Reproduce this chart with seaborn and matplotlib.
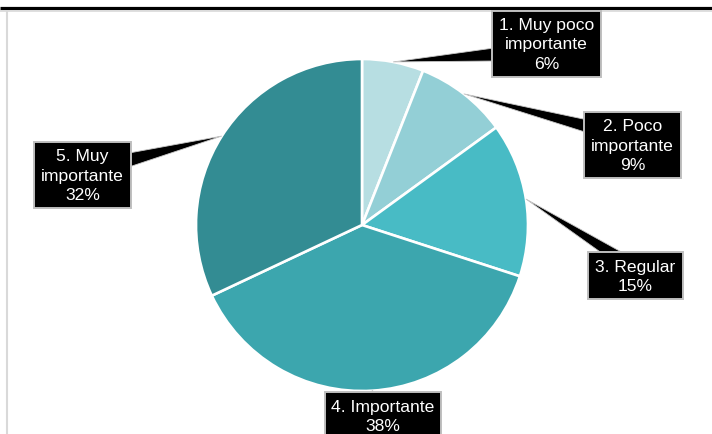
import numpy as np
import matplotlib
matplotlib.use("Agg")
import matplotlib.pyplot as plt
from matplotlib.patches import Rectangle, Polygon
import seaborn as sns

# ---- data ----
categories = ["1. Muy poco\nimportante", "2. Poco\nimportante", "3. Regular",
              "4. Importante", "5. Muy\nimportante"]
values = [6, 9, 15, 38, 32]
colors = ["#B7DEE2", "#93CFD6", "#48BBC5", "#3CA6AE", "#338C93"]

sns.set_theme(style="white")
plt.rcParams['font.family'] = ['Liberation Sans', 'DejaVu Sans']

W, H = 712, 435
fig = plt.figure(figsize=(W / 100, H / 100), dpi=100)
ax = fig.add_axes([0, 0, 1, 1])


def Y(y):
    return H - y


cx, cy, R = 362, 226, 166
wedges, _ = ax.pie(values, colors=colors, startangle=90, counterclock=False,
                   center=(cx, Y(cy)), radius=R,
                   wedgeprops=dict(edgecolor="white", linewidth=1.9))
ax.set_xlim(0, W)
ax.set_ylim(0, H)
ax.set_aspect("equal")
ax.axis("off")

# frame lines
ax.plot([0, W], [Y(9), Y(9)], color="black", lw=2.3, solid_capstyle="butt")
ax.plot([0, W], [Y(11.5), Y(11.5)], color="#D9D9D9", lw=1.2, solid_capstyle="butt")
ax.plot([6.8, 6.8], [Y(12), 0], color="#D9D9D9", lw=1.5, solid_capstyle="butt")

# label boxes (pixel layout) and leader bases
boxes = [(492, 12, 601, 78), (584, 113, 681, 179), (588, 253, 683, 300),
         (325, 393, 441, 445), (34, 143, 131, 209)]
bases = [((494, 49), (494, 62)), ((588, 121), (588, 134)), ((603, 255), (625, 255)),
         ((368, 395), (376, 395)), ((129, 154), (129, 168))]
text_y = [45, 146, 277, 417, 176]

for w, box, base, ty, cat, v in zip(wedges, boxes, bases, text_y, categories, values):
    mid = np.deg2rad((w.theta1 + w.theta2) / 2)
    tip = (cx + R * np.cos(mid), Y(cy) + R * np.sin(mid))
    poly = Polygon([tip, (base[0][0], Y(base[0][1])), (base[1][0], Y(base[1][1]))],
                   closed=True, facecolor="black", edgecolor="#C8C8C8", lw=0.6, zorder=3)
    ax.add_patch(poly)
    x0, y0, x1, y1 = box
    rect = Rectangle((x0, Y(y1)), x1 - x0, y1 - y0, facecolor="black",
                     edgecolor="#BFBFBF", lw=1.4, zorder=4)
    ax.add_patch(rect)
    ax.text((x0 + x1) / 2, Y(ty), f"{cat}\n{v}%", color="white", ha="center",
            va="center", fontsize=12.6, linespacing=1.38, zorder=5)

fig.savefig("out.png", dpi=100)
